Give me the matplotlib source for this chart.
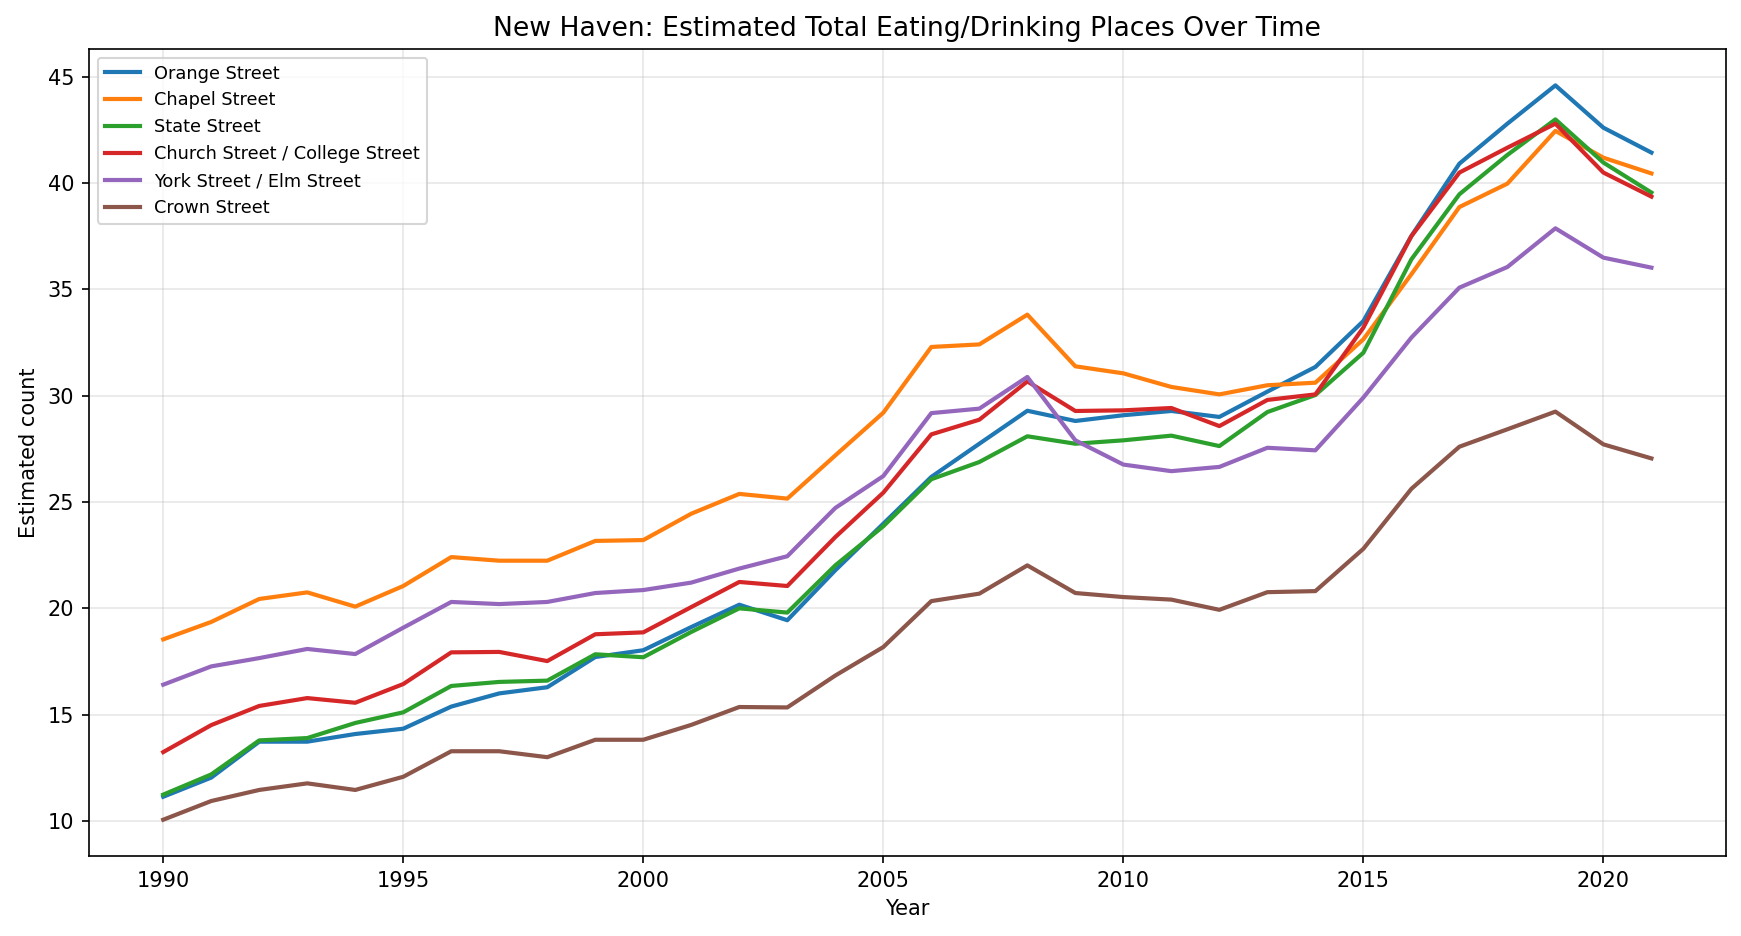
import matplotlib.pyplot as plt
import numpy as np

years = np.arange(1990, 2022)

orange_st = [11.14, 12.04, 13.73, 13.73, 14.09, 14.34, 15.38, 16.0, 16.29, 17.71, 18.03,
             19.12, 20.17, 19.44, 21.79, 23.98, 26.18, 27.74, 29.29, 28.81, 29.08,
             29.28, 29.0, 30.19, 31.35, 33.51, 37.51, 40.91, 42.79, 44.59, 42.60, 41.43]
chapel_st = [18.54, 19.36, 20.44, 20.75, 20.08, 21.05, 22.41, 22.24, 22.24, 23.17, 23.21,
             24.45, 25.38, 25.16, 27.19, 29.20, 32.29, 32.41, 33.81, 31.38, 31.05,
             30.41, 30.06, 30.49, 30.61, 32.65, 35.71, 38.87, 39.97, 42.45, 41.19, 40.45]
state_st = [11.24, 12.19, 13.79, 13.90, 14.61, 15.11, 16.35, 16.54, 16.60, 17.84, 17.70,
            18.89, 20.0, 19.80, 22.02, 23.86, 26.07, 26.88, 28.09, 27.74, 27.90,
            28.12, 27.63, 29.23, 30.03, 32.02, 36.41, 39.47, 41.32, 42.99, 40.96, 39.55]
church_st = [13.24, 14.51, 15.41, 15.78, 15.56, 16.44, 17.93, 17.95, 17.52, 18.78, 18.87,
             20.06, 21.24, 21.05, 23.35, 25.44, 28.18, 28.87, 30.67, 29.28, 29.31,
             29.42, 28.57, 29.80, 30.06, 33.20, 37.50, 40.49, 41.66, 42.79, 40.49, 39.36]
york_st = [16.41, 17.27, 17.66, 18.09, 17.85, 19.09, 20.30, 20.20, 20.30, 20.72, 20.86,
           21.21, 21.87, 22.45, 24.72, 26.22, 29.18, 29.39, 30.88, 27.90, 26.76,
           26.45, 26.65, 27.55, 27.43, 29.91, 32.73, 35.08, 36.05, 37.87, 36.49, 36.02]
crown_st = [10.06, 10.94, 11.46, 11.77, 11.46, 12.08, 13.28, 13.28, 13.0, 13.82, 13.82,
            14.52, 15.36, 15.34, 16.84, 18.18, 20.34, 20.69, 22.02, 20.72, 20.53,
            20.41, 19.93, 20.76, 20.81, 22.80, 25.62, 27.60, 28.42, 29.25, 27.71, 27.05]

series = [
    ("Orange Street", orange_st),
    ("Chapel Street", chapel_st),
    ("State Street", state_st),
    ("Church Street / College Street", church_st),
    ("York Street / Elm Street", york_st),
    ("Crown Street", crown_st),
]

fig, ax = plt.subplots(figsize=(11.61, 6.24), dpi=150)

for name, vals in series:
    ax.plot(years, vals, linewidth=2, label=name)

ax.set_title("New Haven: Estimated Total Eating/Drinking Places Over Time", fontsize=12.8)
ax.set_xlabel("Year")
ax.set_ylabel("Estimated count")
ax.grid(True, alpha=0.3)
ax.legend(loc="upper left", fontsize=8.5)

plt.subplots_adjust(left=0.051, right=0.991, top=0.948, bottom=0.085)
plt.savefig("out.png", dpi=150)
